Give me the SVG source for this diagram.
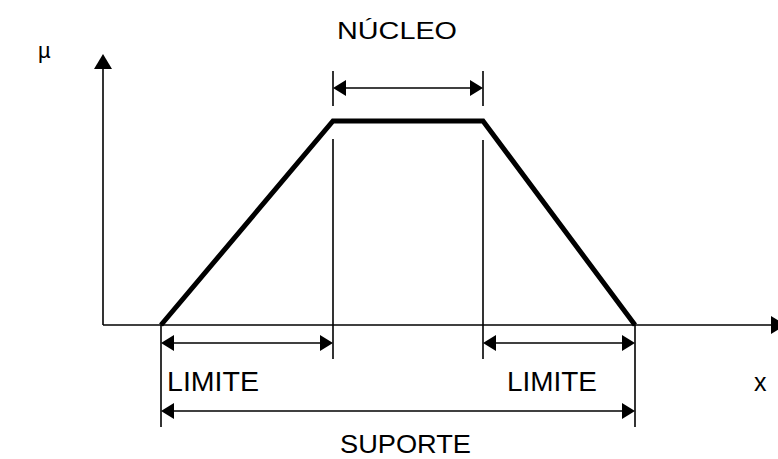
<svg xmlns="http://www.w3.org/2000/svg" width="778" height="459" viewBox="0 0 778 459">
<style>
.ax{stroke:#000;stroke-width:1.6;fill:none}
.dim{stroke:#000;stroke-width:1.6;fill:none}
.tr{stroke:#000;stroke-width:5;fill:none;stroke-linejoin:miter}
.ah{fill:#000;stroke:none}
text{font-family:"Liberation Sans",Arial,sans-serif;fill:#000}
</style>
<rect width="778" height="459" fill="#fff"/>
<g id="axes">
<line class="ax" x1="103" y1="66" x2="103" y2="325"/>
<polygon class="ah" points="103,54 94,69 112,69"/>
<line class="ax" x1="103" y1="325" x2="772" y2="325"/>
<polygon class="ah" points="786,325 771,316 771,334"/>
<text x="38" y="58" font-size="22">µ</text>
<text x="754" y="391" font-size="25">x</text>
</g>
<g id="trapezoid">
<polyline class="tr" points="161,325 333,121 483,121 635,325"/>
</g>
<g id="connectors">
<line class="dim" x1="333" y1="71" x2="333" y2="106"/>
<line class="dim" x1="483" y1="71" x2="483" y2="106"/>
<line class="dim" x1="333" y1="139" x2="333" y2="359"/>
<line class="dim" x1="483" y1="140" x2="483" y2="359"/>
<line class="dim" x1="161" y1="325" x2="161" y2="427"/>
<line class="dim" x1="635" y1="325" x2="635" y2="427"/>
<line class="dim" x1="340" y1="88" x2="476" y2="88"/>
<polygon class="ah" points="333,88 346,80 346,96"/>
<polygon class="ah" points="483,88 470,80 470,96"/>
<line class="dim" x1="168" y1="343" x2="326" y2="343"/>
<polygon class="ah" points="161,343 174,335 174,351"/>
<polygon class="ah" points="333,343 320,335 320,351"/>
<line class="dim" x1="490" y1="343" x2="628" y2="343"/>
<polygon class="ah" points="483,343 496,335 496,351"/>
<polygon class="ah" points="635,343 622,335 622,351"/>
<line class="dim" x1="168" y1="411" x2="628" y2="411"/>
<polygon class="ah" points="161,411 174,403 174,419"/>
<polygon class="ah" points="635,411 622,403 622,419"/>
</g>
<g id="labels">
<text x="337" y="39" font-size="24" textLength="120" lengthAdjust="spacingAndGlyphs">NÚCLEO</text>
<text x="167" y="391" font-size="28" textLength="92" lengthAdjust="spacingAndGlyphs">LIMITE</text>
<text x="507" y="391" font-size="28" textLength="90" lengthAdjust="spacingAndGlyphs">LIMITE</text>
<text x="340" y="453" font-size="25" textLength="131" lengthAdjust="spacingAndGlyphs">SUPORTE</text>
</g>
</svg>
